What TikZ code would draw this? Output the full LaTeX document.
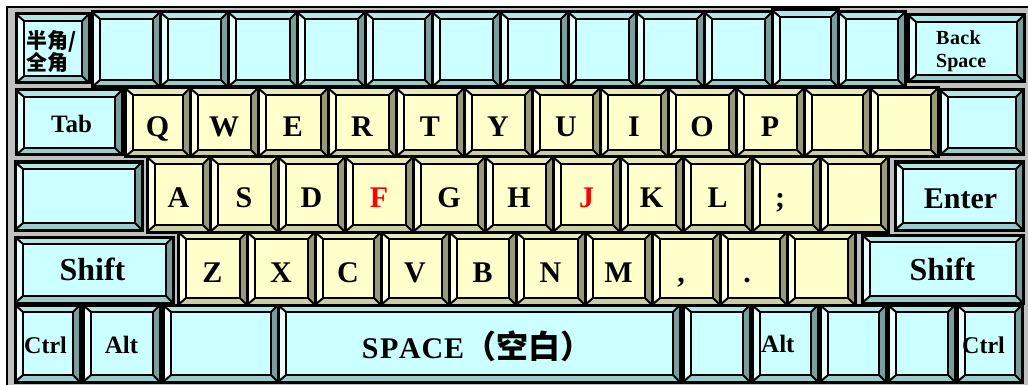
\documentclass[tikz,border=0pt]{standalone}
\usepackage{fontspec}
\setmainfont{Liberation Serif}
\newfontfamily\cjk{Noto Sans CJK SC}
\definecolor{kcface}{HTML}{CCFFFF}
\definecolor{kctop}{HTML}{B2E6E6}
\definecolor{kcleft}{HTML}{E8FFFF}
\definecolor{kcright}{HTML}{7A9E9E}
\definecolor{kcbot}{HTML}{99CCCC}
\definecolor{kyface}{HTML}{FFFFCC}
\definecolor{kytop}{HTML}{E8E8BC}
\definecolor{kyleft}{HTML}{FFFFE8}
\definecolor{kyright}{HTML}{99997A}
\definecolor{kybot}{HTML}{CCCCA3}
\definecolor{framegray}{HTML}{C0C0C0}
\definecolor{keyred}{HTML}{FF0000}
\newcommand\kbkey[6]{%
  \fill[#5face] (#1+8,#2+7) rectangle (#3-7,#4-7);
  \fill[#5top] (#1,#2) -- (#3,#2) -- (#3-7,#2+7) -- (#1+8,#2+7) -- cycle;
  \fill[#5bot] (#1,#4) -- (#3,#4) -- (#3-7,#4-7) -- (#1+8,#4-7) -- cycle;
  \fill[#5left] (#1,#2) -- (#1+8,#2+7) -- (#1+8,#4-7) -- (#1,#4) -- cycle;
  \fill[#5right] (#3,#2) -- (#3-7,#2+7) -- (#3-7,#4-7) -- (#3,#4) -- cycle;
  \draw[keyedge] (#1+8,#2+7) rectangle (#3-7,#4-7);
  \draw[keyedge] (#1,#2) -- (#1+8,#2+7) (#3,#2) -- (#3-7,#2+7) (#3,#4) -- (#3-7,#4-7) (#1,#4) -- (#1+8,#4-7);
  \draw[keyouter] (#1,#2) rectangle (#3,#4);
  \coordinate (#6) at ({(#1+#3)/2},{(#2+#4)/2});
}
\tikzset{
  keyouter/.style={draw=black, line width=3pt},
  keyedge/.style={draw=black, line width=2pt},
  keytxt/.style={font=\bfseries\fontsize{30}{30}\selectfont, inner sep=0pt, anchor=base},
  smalltxt/.style={font=\bfseries\fontsize{25}{25}\selectfont, inner sep=0pt, anchor=base},
  bigtxt/.style={font=\bfseries\fontsize{32}{32}\selectfont, inner sep=0pt, anchor=base},
  cjktxt/.style={font=\cjk\bfseries\fontsize{21}{21}\selectfont, inner sep=0pt, anchor=base west},
}
\begin{document}
\begin{tikzpicture}[x=1pt,y=-1pt]
\useasboundingbox (0,0) rectangle (1028,385);
\fill[white] (0,0) rectangle (1028,385);
\fill[framegray] (7,7) rectangle (1032,392);
\draw[line width=1.8pt] (7,392) -- (7,7) -- (1032,7);
% ---- row 1
\kbkey{16}{14}{89}{83}{kc}{khz}
\kbkey{92}{12}{160}{87}{kc}{k11}
\kbkey{160}{12}{228}{87}{kc}{k12}
\kbkey{228}{12}{297}{87}{kc}{k13}
\kbkey{297}{12}{365}{87}{kc}{k14}
\kbkey{365}{12}{432}{87}{kc}{k15}
\kbkey{432}{12}{500}{87}{kc}{k16}
\kbkey{500}{12}{568}{87}{kc}{k17}
\kbkey{568}{12}{636}{87}{kc}{k18}
\kbkey{636}{12}{704}{87}{kc}{k19}
\kbkey{704}{12}{772}{87}{kc}{k110}
\kbkey{772}{10}{838}{87}{kc}{k111}
\kbkey{838}{12}{905}{87}{kc}{k112}
\kbkey{908}{15}{1024}{82}{kc}{kbs}
% ---- row 2
\kbkey{16}{90}{122}{155}{kc}{ktab}
\kbkey{125}{88}{190}{157}{ky}{kq}
\kbkey{190}{88}{258}{157}{ky}{kw}
\kbkey{258}{88}{328}{157}{ky}{ke}
\kbkey{328}{88}{396}{157}{ky}{kr}
\kbkey{396}{88}{464}{157}{ky}{kt}
\kbkey{464}{88}{532}{157}{ky}{ky}
\kbkey{532}{88}{600}{157}{ky}{ku}
\kbkey{600}{88}{668}{157}{ky}{ki}
\kbkey{668}{88}{736}{157}{ky}{ko}
\kbkey{736}{88}{804}{157}{ky}{kp}
\kbkey{804}{88}{870}{157}{ky}{kb1}
\kbkey{870}{88}{938}{157}{ky}{kb2}
\kbkey{940}{90}{1023}{155}{kc}{kb3}
% ---- row 3
\kbkey{15}{162}{142}{230}{kc}{kcaps}
\kbkey{147}{157}{210}{232}{ky}{ka}
\kbkey{210}{157}{278}{232}{ky}{ks}
\kbkey{278}{157}{345}{232}{ky}{kd}
\kbkey{345}{157}{413}{232}{ky}{kf}
\kbkey{413}{157}{485}{232}{ky}{kg}
\kbkey{485}{157}{553}{232}{ky}{kh}
\kbkey{553}{157}{620}{232}{ky}{kj}
\kbkey{620}{157}{683}{232}{ky}{kk}
\kbkey{683}{157}{752}{232}{ky}{kl}
\kbkey{752}{157}{820}{232}{ky}{ksemi}
\kbkey{820}{157}{888}{232}{ky}{kb4}
\kbkey{895}{162}{1023}{230}{kc}{kenter}
% ---- row 4
\kbkey{15}{237}{173}{303}{kc}{klshift}
\kbkey{178}{232}{247}{305}{ky}{kz}
\kbkey{247}{232}{315}{305}{ky}{kx}
\kbkey{315}{232}{381}{305}{ky}{kc}
\kbkey{381}{232}{449}{305}{ky}{kv}
\kbkey{449}{232}{516}{305}{ky}{kbb}
\kbkey{516}{232}{585}{305}{ky}{kn}
\kbkey{585}{232}{652}{305}{ky}{km}
\kbkey{652}{232}{720}{305}{ky}{kcomma}
\kbkey{720}{232}{787}{305}{ky}{kdot}
\kbkey{787}{232}{855}{305}{ky}{kb5}
\kbkey{862}{235}{1023}{303}{kc}{krshift}
% ---- row 5
\kbkey{15}{305}{80}{382}{kc}{klctrl}
\kbkey{83}{305}{160}{382}{kc}{klalt}
\kbkey{163}{305}{278}{382}{kc}{kb6}
\kbkey{278}{305}{680}{382}{kc}{kspace}
\kbkey{683}{305}{750}{382}{kc}{kb7}
\kbkey{752}{305}{818}{382}{kc}{kralt}
\kbkey{820}{305}{886}{382}{kc}{kb8}
\kbkey{888}{305}{955}{382}{kc}{kb9}
\kbkey{957}{305}{1022}{382}{kc}{krctrl}
% ---- labels
\node[cjktxt] (thz1) at (26,49) {半角/};
\node[cjktxt] (thz2) at (26,71) {全角};
\node[inner sep=0pt, anchor=base west, font=\bfseries\fontsize{20}{20}\selectfont] (tbs1) at (936,45) {B\kern0.6pt a\kern0.3pt c\kern0.3pt k};
\node[inner sep=0pt, anchor=base west, font=\bfseries\fontsize{20}{20}\selectfont] (tbs2) at (936,68) {Space};
\node[smalltxt] (ttab) at (71.5,132) {Tab};
\node[keytxt] (tq) at (157.5,136) {Q};
\node[keytxt] (tw) at (224,136) {W};
\node[keytxt] (te) at (293,136) {E};
\node[keytxt] (tr) at (362,136) {R};
\node[keytxt] (tt) at (430,136) {T};
\node[keytxt] (ty) at (498,136) {Y};
\node[keytxt] (tu) at (566,136) {U};
\node[keytxt] (ti) at (634,136) {I};
\node[keytxt] (to) at (702,136) {O};
\node[keytxt] (tp) at (770,136) {P};
\node[keytxt] (ta) at (178.5,207) {A};
\node[keytxt] (ts) at (244,207) {S};
\node[keytxt] (td) at (311.5,207) {D};
\node[keytxt, text=keyred] (tf) at (379,207) {F};
\node[keytxt] (tg) at (449,207) {G};
\node[keytxt] (th) at (519,207) {H};
\node[keytxt, text=keyred] (tj) at (586.5,207) {J};
\node[keytxt] (tk) at (651.5,207) {K};
\node[keytxt] (tl) at (717.5,207) {L};
\node[keytxt] (tsemi) at (780,207) {;};
\node[keytxt] (tenter) at (960.5,208) {Enter};
\node[bigtxt] (tlshift) at (92.5,280) {Shift};
\node[keytxt] (tz) at (212.5,282) {Z};
\node[keytxt] (tx) at (281,282) {X};
\node[keytxt] (tc) at (348,282) {C};
\node[keytxt] (tv) at (415,282) {V};
\node[keytxt] (tb) at (482.5,282) {B};
\node[keytxt] (tn) at (550.5,282) {N};
\node[keytxt] (tm) at (618.5,282) {M};
\node[keytxt] (tcomma) at (681,282) {,};
\node[keytxt] (tdot) at (747,282) {.};
\node[bigtxt] (trshift) at (942.5,280) {Shift};
\node[inner sep=0pt, anchor=base west, font=\bfseries\fontsize{24}{24}\selectfont] (tlctrl) at (24,353) {Ctrl};
\node[smalltxt] (tlalt) at (121.5,353) {Alt};
\node[keytxt] (tspace) at (477,358) {S\kern1.5pt P\kern0.8pt A\kern0.8pt C\kern0.8pt E{\cjk\bfseries\fontsize{32}{32}\selectfont （空白）}};
\node[inner sep=0pt, anchor=base west, font=\bfseries\fontsize{25}{25}\selectfont] (tralt) at (761,352) {Alt};
\node[inner sep=0pt, anchor=base west, font=\bfseries\fontsize{24}{24}\selectfont] (trctrl) at (962,353) {Ctrl};
\end{tikzpicture}
\end{document}
